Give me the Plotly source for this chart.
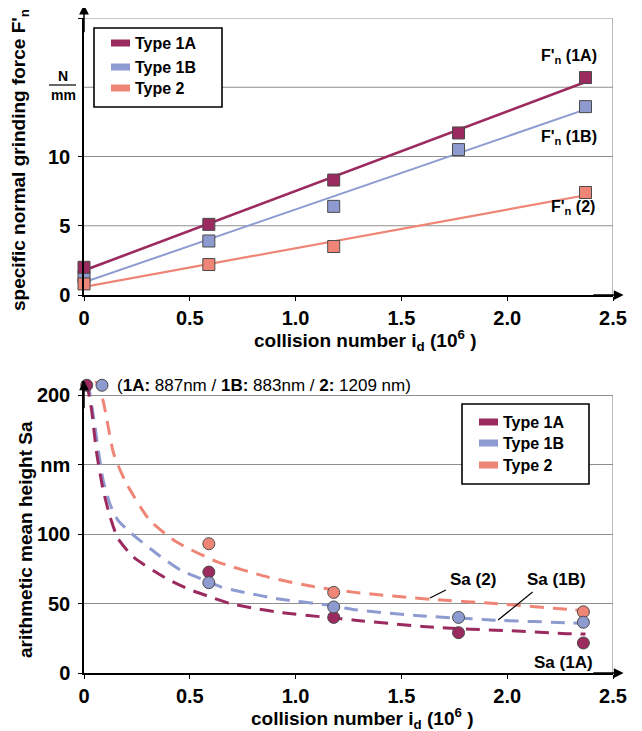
import numpy as np
import plotly.graph_objects as go

# page body has an 8px margin: build the figure 8px smaller and shift positions
OFF = 8
W, H = 642 - OFF, 731 - OFF
FONT = "Liberation Sans, Arial, sans-serif"

# ---------------- data: top chart (specific normal grinding force, N/mm)
force_x_1a = [0, 0.59, 1.18, 1.77, 2.37]
force_1a = [2.0, 5.1, 8.3, 11.7, 15.7]
force_x_1b = [0, 0.59, 1.18, 1.77, 2.37]
force_1b = [1.3, 3.9, 6.4, 10.5, 13.6]
force_x_2 = [0, 0.59, 1.18, 2.37]
force_2 = [0.8, 2.2, 3.5, 7.4]

# ---------------- data: bottom chart (arithmetic mean height Sa, nm)
sa_x_1a = [0.013, 0.59, 1.18, 1.77, 2.36]
sa_1a = [207, 72.6, 40, 29, 21.6]
sa_x_1b = [0.085, 0.59, 1.18, 1.77, 2.36]
sa_1b = [207, 65, 47.5, 40, 36.5]
sa_x_2 = [0.047, 0.59, 1.18, 2.36]
sa_2 = [213, 93, 58, 44]

# dashed trend curves
trend_x_1a = [0.013, 0.035, 0.06, 0.09, 0.124, 0.16, 0.233, 0.39, 0.5, 0.61, 0.69, 0.79, 0.93, 1.15,
              1.28, 1.6, 1.83, 2.0, 2.26, 2.37]
trend_1a = [209, 190, 158, 132, 112, 97, 83.5, 68, 60, 54, 50, 47, 43.5, 40,
            38, 33.5, 31.5, 30.5, 28.5, 28]
trend_x_1b = [0.02, 0.052, 0.09, 0.124, 0.16, 0.22, 0.36, 0.456, 0.55, 0.646, 0.71, 0.93, 1.15,
              1.28, 1.6, 1.83, 1.94, 2.31, 2.37]
trend_1b = [209, 177, 139, 121, 110, 101, 84, 74, 68, 62, 59.5, 53, 49,
            45.5, 41, 39, 38, 36, 35.5]
trend_x_2 = [0.05, 0.09, 0.14, 0.195, 0.31, 0.44, 0.63, 0.87, 1.09, 1.28, 1.64, 1.94, 2.31, 2.37]
trend_2 = [213, 196, 158, 138, 110, 94, 80, 69, 62, 58, 53, 50, 45.5, 45]

# ---------------- tick labels / texts
x_tickvals = [0, 0.5, 1.0, 1.5, 2.0, 2.5]
x_ticktext = ["0", "0.5", "1.0", "1.5", "2.0", "2.5"]
force_tickvals = [0, 5, 10, 20]
force_ticktext = ["0", "5", "10", "20"]
force_gridvals = [5, 10, 15, 20]
sa_tickvals = [0, 50, 100, 150, 200]
sa_ticktext = ["0", "50", "100", "nm", "200"]
series_names = ["Type 1A", "Type 1B", "Type 2"]
force_labels = ["F'<sub>n</sub> (1A)", "F'<sub>n</sub> (1B)", "F'<sub>n</sub> (2)"]
sa_labels = ["Sa (2)", "Sa (1B)", "Sa (1A)"]
initial_note = "(<b>1A:</b> 887nm / <b>1B:</b> 883nm / <b>2:</b> 1209 nm)"
x_title = "<b>collision number i<sub>d</sub> (10<sup>6</sup> )</b>"
force_title = "<b>specific normal grinding force F'<sub>n</sub></b>"
sa_title = "<b>arithmetic mean height Sa</b>"

C1A, C1B, C2 = "#9b2a5f", "#8e9bd0", "#ef8576"
EDGE = "#4a4a4a"
GRID = "#8f8f8f"


def px(x):
    return (x - OFF) / W


def py(y):
    return 1 - (y - OFF) / H


fig = go.Figure()

# ---------------- top chart: linear fits + markers
for xs, ys, col, w in [(force_x_1b, force_1b, C1B, 2), (force_x_2, force_2, C2, 2.2),
                       (force_x_1a, force_1a, C1A, 2.6)]:
    coef = np.polyfit(xs, ys, 1)
    lx = np.array([min(xs), max(xs)])
    fig.add_trace(go.Scatter(x=lx, y=np.polyval(coef, lx), mode="lines",
                             line=dict(color=col, width=w), xaxis="x", yaxis="y",
                             showlegend=False, hoverinfo="skip"))
for xs, ys, col in [(force_x_1b, force_1b, C1B), (force_x_2, force_2, C2), (force_x_1a, force_1a, C1A)]:
    fig.add_trace(go.Scatter(x=xs, y=ys, mode="markers", cliponaxis=False,
                             marker=dict(symbol="square", size=12, color=col,
                                         line=dict(color=EDGE, width=1)),
                             xaxis="x", yaxis="y", showlegend=False))

# ---------------- bottom chart: dashed trends + markers
for xs, ys, col in [(trend_x_2, trend_2, C2), (trend_x_1b, trend_1b, C1B), (trend_x_1a, trend_1a, C1A)]:
    fig.add_trace(go.Scatter(x=xs, y=ys, mode="lines",
                             line=dict(color=col, width=3, dash="14px,9px", shape="spline", smoothing=0.6),
                             xaxis="x2", yaxis="y2", showlegend=False, hoverinfo="skip"))
for xs, ys, col in [(sa_x_2, sa_2, C2), (sa_x_1a, sa_1a, C1A), (sa_x_1b, sa_1b, C1B)]:
    fig.add_trace(go.Scatter(x=xs, y=ys, mode="markers", cliponaxis=False,
                             marker=dict(symbol="circle", size=12, color=col,
                                         line=dict(color=EDGE, width=1)),
                             xaxis="x2", yaxis="y2", showlegend=False))

tickfont = dict(family=FONT, size=20, color="black", weight="bold")
common_x = dict(range=[0, 2.5], tickvals=x_tickvals, ticktext=x_ticktext, tickfont=tickfont,
                showline=True, linecolor="black", linewidth=1.5, ticks="outside", ticklen=4,
                tickcolor="black", showgrid=False, zeroline=False, fixedrange=True,
                automargin=False, domain=[px(84), px(613)])
common_y = dict(showline=True, linecolor="black", linewidth=1.5, ticks="outside", ticklen=4,
                tickcolor="black", showgrid=True, gridcolor=GRID, gridwidth=1, zeroline=False,
                tickfont=tickfont, fixedrange=True, automargin=False, ticklabelstandoff=4)

fig.update_layout(
    width=W, height=H, autosize=False, margin=dict(l=0, r=0, t=0, b=0, autoexpand=False),
    paper_bgcolor="white", plot_bgcolor="white", showlegend=False,
    font=dict(family=FONT, color="black", size=16),
    xaxis=dict(common_x, anchor="y"),
    yaxis=dict(common_y, anchor="x", range=[0, 20], tickvals=force_tickvals, ticktext=force_ticktext,
               showgrid=False, domain=[py(295), py(18)]),
    xaxis2=dict(common_x, anchor="y2"),
    yaxis2=dict(common_y, anchor="x2", range=[0, 210], tickvals=sa_tickvals, ticktext=sa_ticktext,
                domain=[py(673), py(673 - 210 * 1.39)]),
)

shapes = []
ann = []

# horizontal grid of the top chart (incl. the unit row at 15 and the top border at 20)
for gv in force_gridvals:
    shapes.append(dict(type="line", xref="x", yref="y", x0=0, x1=2.5, y0=gv, y1=gv, layer="below",
                       line=dict(color=GRID, width=1)))
# right borders in gray
shapes.append(dict(type="line", xref="x", yref="y", x0=2.5, x1=2.5, y0=0, y1=20, line=dict(color=GRID, width=1.2)))
shapes.append(dict(type="line", xref="x2", yref="y2", x0=2.5, x1=2.5, y0=0, y1=200, line=dict(color=GRID, width=1.2)))

# axis arrows
for xa, ya, ytop in [("x", "y", 20.95), ("x2", "y2", 210.5)]:
    ann.append(dict(x=0, y=ytop, ax=0, ay=ytop * 0.9, xref=xa, yref=ya, axref=xa, ayref=ya, text="",
                    font=dict(size=10), showarrow=True, arrowhead=2, arrowsize=1.3, arrowwidth=1.5,
                    arrowcolor="black"))
    ann.append(dict(x=2.55, y=0, ax=2.4, ay=0, xref=xa, yref=ya, axref=xa, ayref=ya, text="",
                    font=dict(size=10), showarrow=True, arrowhead=2, arrowsize=1.3, arrowwidth=1.5,
                    arrowcolor="black"))

# N/mm unit fraction on the top y axis
ann.append(dict(x=px(63), y=py(76), xref="paper", yref="paper", text="<b>N</b>", showarrow=False,
                font=dict(size=14), xanchor="center", yanchor="middle"))
ann.append(dict(x=px(63), y=py(95), xref="paper", yref="paper", text="<b>mm</b>", showarrow=False,
                font=dict(size=14), xanchor="center", yanchor="middle"))
shapes.append(dict(type="line", xref="paper", yref="paper", x0=px(49), x1=px(76), y0=py(85), y1=py(85),
                   line=dict(color="black", width=1.2)))

# axis titles
for x, y, t, ang in [(20, 160, force_title, -90), (25, 540, sa_title, -90),
                     (365, 341, x_title, 0), (362, 718, x_title, 0)]:
    ann.append(dict(x=px(x), y=py(y), xref="paper", yref="paper", text=t, textangle=ang,
                    showarrow=False, font=dict(size=19), xanchor="center", yanchor="middle"))

# manual legends
for box, items in [((94, 28, 222, 107), [(43, C1A), (67, C1B), (88, C2)]),
                   ((462, 404, 589, 484), [(422, C1A), (443, C1B), (465, C2)])]:
    x0, y0, x1, y1 = box
    shapes.append(dict(type="rect", xref="paper", yref="paper", x0=px(x0), x1=px(x1), y0=py(y1), y1=py(y0),
                       line=dict(color="black", width=1.6), fillcolor="white"))
    bx = x0 + 17
    for (yy, col), name in zip(items, series_names):
        shapes.append(dict(type="rect", xref="paper", yref="paper", x0=px(bx), x1=px(bx + 19),
                           y0=py(yy + 3.5), y1=py(yy - 3.5), line=dict(width=0), fillcolor=col))
        ann.append(dict(x=px(bx + 22), y=py(yy), xref="paper", yref="paper", text="<b>%s</b>" % name,
                        showarrow=False, font=dict(size=16), xanchor="left", yanchor="middle"))

# series labels, top chart
for (x, y), t in zip([(2.29, 17.2), (2.29, 11.4), (2.31, 6.3)], force_labels):
    ann.append(dict(x=x, y=y, xref="x", yref="y", text="<b>%s</b>" % t, showarrow=False,
                    font=dict(size=16), xanchor="center", yanchor="middle"))

# series labels, bottom chart
for (x, y), t in zip([(1.84, 67), (2.235, 67), (2.264, 7.2)], sa_labels):
    ann.append(dict(x=x, y=y, xref="x2", yref="y2", text="<b>%s</b>" % t, showarrow=False,
                    font=dict(size=17), xanchor="center", yanchor="middle"))
shapes.append(dict(type="line", xref="x2", yref="y2", x0=1.71, y0=59.7, x1=1.635, y1=54,
                   line=dict(color="black", width=1.2)))
shapes.append(dict(type="line", xref="x2", yref="y2", x0=2.12, y0=58.3, x1=1.957, y1=38.1,
                   line=dict(color="black", width=1.2)))

# initial values note
ann.append(dict(x=0.147, y=207, xref="x2", yref="y2", text=initial_note, showarrow=False,
                font=dict(size=17), xanchor="left", yanchor="middle"))

fig.update_layout(shapes=shapes, annotations=ann)
fig.write_html("out.html")
